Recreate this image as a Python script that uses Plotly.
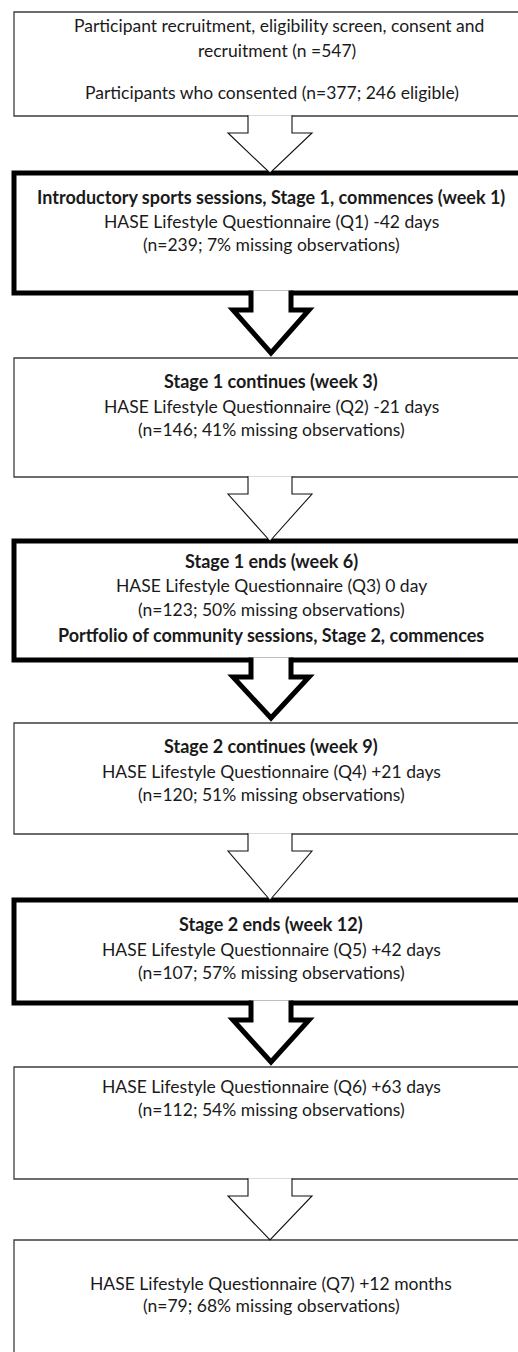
import plotly.graph_objects as go

# ---------------- data ----------------
recruited = 547
consented = 377
eligible = 246

stage_headers = [
    "Introductory sports sessions, Stage 1, commences (week 1)",
    "Stage 1 continues (week 3)",
    "Stage 1 ends (week 6)",
    "Stage 2 continues (week 9)",
    "Stage 2 ends (week 12)",
    None,
    None,
]
stage_footers = [None, None, "Portfolio of community sessions, Stage 2, commences", None, None, None, None]
questionnaires = ["Q1", "Q2", "Q3", "Q4", "Q5", "Q6", "Q7"]
timings = ["-42 days", "-21 days", "0 day", "+21 days", "+42 days", "+63 days", "+12 months"]
n_values = [239, 146, 123, 120, 107, 112, 79]
missing_pct = [7, 41, 50, 51, 57, 54, 68]
emphasised = [True, False, True, False, True, False, False]

# ---------------- layout geometry ----------------
W, H = 518, 1352
box_left, box_right = 14, 560
box_tops = [12, 173, 358, 541, 723, 900, 1067, 1240]
box_bottoms = [116, 293, 477, 660, 834, 1003, 1179, 1380]
# text line centres for each box
line_ys = [
    [25, 50, 92],
    [197, 221, 244],
    [381, 406, 429],
    [561, 585, 609, 635],
    [746, 771, 794],
    [924, 949, 972],
    [1086, 1109],
    [1283, 1305],
]
first_box_x = [279, 277, 272]

FONT = "Lato, Carlito, Calibri, sans-serif"
FS = 17.5
FS_BOLD = 18
TXT = "#1a1a1a"
THIN_W, THICK_W = 1.3, 5

# build box texts
box_lines = [[
    ("Participant recruitment, eligibility screen, consent and", False),
    (f"recruitment (n ={recruited})", False),
    (f"Participants who consented (n={consented}; {eligible} eligible)", False),
]]
for i in range(len(questionnaires)):
    lines = []
    if stage_headers[i]:
        lines.append((stage_headers[i], True))
    lines.append((f"HASE Lifestyle Questionnaire ({questionnaires[i]}) {timings[i]}", False))
    lines.append((f"(n={n_values[i]}; {missing_pct[i]}% missing observations)", False))
    if stage_footers[i]:
        lines.append((stage_footers[i], True))
    box_lines.append(lines)
thick = [False] + emphasised

fig = go.Figure()
shapes = []
annotations = []

for b in range(len(box_tops)):
    lw = THICK_W if thick[b] else THIN_W
    col = "#000000" if thick[b] else "#3c3c3c"
    shapes.append(dict(type="rect", xref="x", yref="y", x0=box_left, x1=box_right,
                       y0=box_tops[b], y1=box_bottoms[b],
                       line=dict(color=col, width=lw), fillcolor="white", layer="above"))
    for k, ((txt, bold), y) in enumerate(zip(box_lines[b], line_ys[b])):
        xc = first_box_x[k] if b == 0 else 271
        annotations.append(dict(xref="x", yref="y", x=xc, y=y, text=(f"<b>{txt}</b>" if bold else txt),
                                showarrow=False, xanchor="center", yanchor="middle",
                                font=dict(family=FONT, size=(FS_BOLD if bold else FS), color=TXT)))

# arrows between boxes
for b in range(len(box_tops) - 1):
    y0 = box_bottoms[b]
    yt = box_tops[b + 1]
    if thick[b]:
        sl, sr, hl, hr, cx = 251, 291, 233, 309, 271
        ys = y0 + 17
        tip = yt - 5
        start = y0 - THICK_W / 2
        lw = THICK_W
        col = "#000000"
    else:
        sl, sr, hl, hr, cx = 248, 292, 228, 312, 270
        ys = y0 + 17
        tip = yt
        start = y0 - 0.7
        lw = 1.1
        col = "#111111"
    path = (f"M {sl},{start} L {sl},{ys} L {hl},{ys} L {cx},{tip} "
            f"L {hr},{ys} L {sr},{ys} L {sr},{start}")
    shapes.append(dict(type="path", xref="x", yref="y", path=path,
                       line=dict(color=col, width=lw), fillcolor="white", layer="above"))

fig.update_layout(
    width=W, height=H,
    margin=dict(l=0, r=0, t=0, b=0),
    paper_bgcolor="white", plot_bgcolor="white",
    xaxis=dict(range=[0, W], visible=False, fixedrange=True),
    yaxis=dict(range=[H, 0], visible=False, fixedrange=True),
    shapes=shapes, annotations=annotations, showlegend=False,
)
fig.write_html("out.html", config={"displayModeBar": False},
               post_script="document.body.style.margin='0px';document.body.style.overflow='hidden';")
